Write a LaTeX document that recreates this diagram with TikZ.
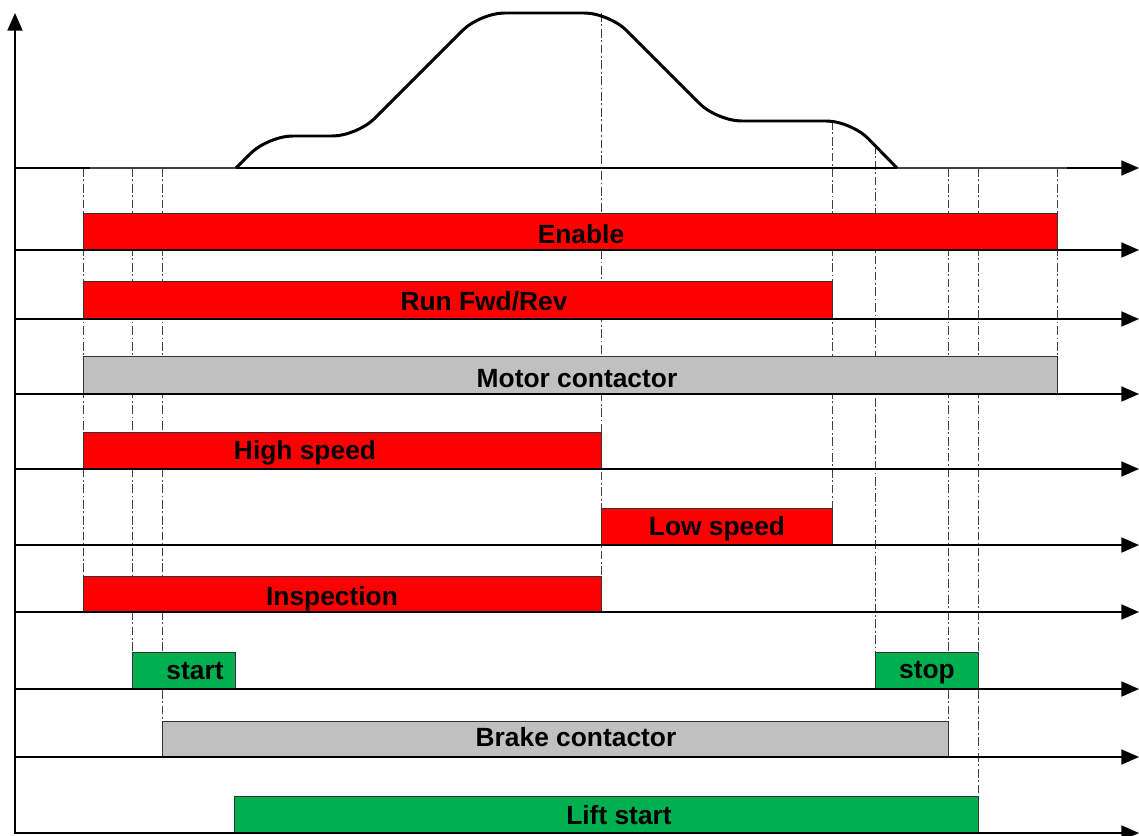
\documentclass[tikz,border=0pt]{standalone}
\usepackage{fontspec}
\setmainfont{Liberation Sans}
\usetikzlibrary{arrows.meta}
\definecolor{sigred}{RGB}{255,0,0}
\definecolor{siggreen}{RGB}{0,176,80}
\definecolor{siggray}{RGB}{192,192,192}
\begin{document}
\begin{tikzpicture}[x=0.02cm,y=-0.02cm]
\tikzstyle{axis}=[line width=1.1pt,-{Triangle[length=10pt,width=8.5pt]}]
\tikzstyle{bar}=[draw=black!80,line width=0.5pt]
\tikzstyle{guide}=[black!75,line width=0.45pt,dash pattern=on 5pt off 1.5pt on 1pt off 1.5pt]
\tikzstyle{lbl}=[anchor=base,inner sep=0pt,font=\fontsize{15}{18}\selectfont\bfseries]
\useasboundingbox (0,0) rectangle (1139,835);
% time marks
\draw[guide] (83,168) -- (83,576);
\draw[guide] (132,168) -- (132,652);
\draw[guide] (162,168) -- (162,721);
\draw[guide] (601,13) -- (601,576);
\draw[guide] (832,121) -- (832,508);
\draw[guide] (875,145) -- (875,652);
\draw[guide] (948,168) -- (948,721);
\draw[guide] (978,168) -- (978,796);
\draw[guide] (1057,168) -- (1057,356);
% signal bars
\draw[bar,fill=sigred] (83,213) rectangle (1057,250);
\draw[bar,fill=sigred] (83,281) rectangle (832,319);
\draw[bar,fill=siggray] (83,356) rectangle (1057,394);
\draw[bar,fill=sigred] (83,432) rectangle (601,469);
\draw[bar,fill=sigred] (601,508) rectangle (832,545);
\draw[bar,fill=sigred] (83,576) rectangle (601,612);
\draw[bar,fill=siggreen] (132,652) rectangle (235,689);
\draw[bar,fill=siggreen] (875,652) rectangle (978,689);
\draw[bar,fill=siggray] (162,721) rectangle (948,757);
\draw[bar,fill=siggreen] (234,796) rectangle (978,833);
% axes
\draw[axis] (15,834) -- (15,13);
\foreach \y in {168,250,319,394,469,545,612,689,757,833}
  \draw[axis] (15,\y) -- (1139,\y);
% speed profile
\draw[line width=1.7pt,black!75] (90,168) -- (236,168);
\draw[line width=1.7pt,black!75] (897,168) -- (1067,168);
\draw[line width=1.7pt,line join=round,rounded corners=14pt]
  (236,168) -- (268,136) -- (357,136) -- (480,13) -- (609,13)
  -- (717,121) -- (851,121) -- (897,168);
% labels
\node[lbl] (en) at (581,243) {Enable};
\node[lbl] (run) at (484,310) {Run Fwd/Rev};
\node[lbl] (mc) at (577,387) {Motor contactor};
\node[lbl] (hs) at (305,459) {High speed};
\node[lbl] (ls) at (717,535) {Low speed};
\node[lbl] (ins) at (332,605) {Inspection};
\node[lbl] (st) at (195,679) {start};
\node[lbl] (sp) at (927,678) {stop};
\node[lbl] (bc) at (576,746) {Brake contactor};
\node[lbl] (ls2) at (619,824) {Lift start};
\end{tikzpicture}
\end{document}
